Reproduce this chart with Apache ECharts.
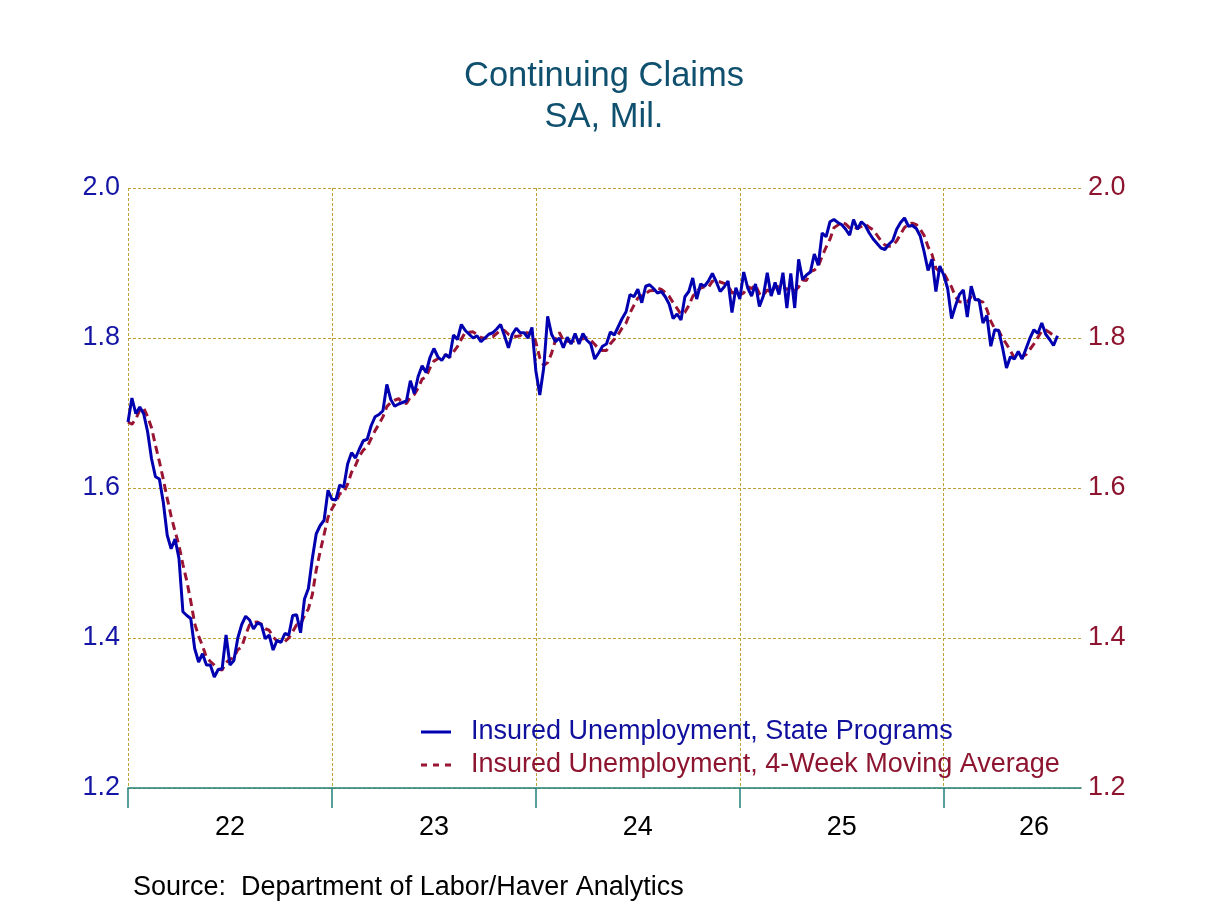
<!DOCTYPE html>
<html>
<head>
<meta charset="utf-8">
<script src="https://cdn.jsdelivr.net/npm/echarts@6/dist/echarts.min.js"></script>
<style>
  html, body { margin: 0; padding: 0; background: #fff; }
  #chart { width: 1208px; height: 906px; }
</style>
</head>
<body>
<div id="chart"></div>
<script>
  'use strict';

  /* weekly continuing claims, millions */
  var claims2022 = [1.688, 1.720, 1.699, 1.708, 1.699, 1.675, 1.639, 1.615, 1.612, 1.581,
    1.537, 1.519, 1.532, 1.506, 1.435, 1.430, 1.426, 1.386, 1.368, 1.379,
    1.364, 1.364, 1.348, 1.358, 1.359, 1.404, 1.364, 1.370, 1.400, 1.418,
    1.429, 1.424, 1.412, 1.420, 1.418, 1.399, 1.404, 1.384, 1.397, 1.394,
    1.406, 1.404, 1.430, 1.431, 1.407, 1.452, 1.466, 1.506, 1.539, 1.550,
    1.557, 1.597];
  var claims2023 = [1.585, 1.584, 1.604, 1.601, 1.632, 1.647, 1.640, 1.652, 1.663, 1.665,
    1.683, 1.695, 1.698, 1.703, 1.738, 1.718, 1.709, 1.712, 1.714, 1.716,
    1.743, 1.726, 1.749, 1.763, 1.754, 1.774, 1.786, 1.775, 1.770, 1.778,
    1.774, 1.804, 1.798, 1.818, 1.810, 1.805, 1.800, 1.803, 1.795, 1.800,
    1.805, 1.807, 1.812, 1.818, 1.803, 1.787, 1.805, 1.813, 1.807, 1.807,
    1.800, 1.814];
  var claims2024 = [1.756, 1.724, 1.760, 1.829, 1.805, 1.795, 1.800, 1.787, 1.801, 1.792,
    1.806, 1.792, 1.806, 1.797, 1.792, 1.772, 1.780, 1.789, 1.792, 1.808,
    1.804, 1.815, 1.826, 1.835, 1.858, 1.855, 1.865, 1.847, 1.869, 1.871,
    1.866, 1.860, 1.862, 1.855, 1.845, 1.826, 1.832, 1.824, 1.855, 1.862,
    1.880, 1.852, 1.872, 1.869, 1.876, 1.886, 1.875, 1.862, 1.868, 1.876,
    1.834, 1.867];
  var claims2025 = [1.852, 1.888, 1.867, 1.856, 1.872, 1.842, 1.856, 1.887, 1.856, 1.874,
    1.858, 1.887, 1.840, 1.886, 1.840, 1.905, 1.878, 1.884, 1.888, 1.912,
    1.897, 1.940, 1.935, 1.955, 1.958, 1.954, 1.951, 1.945, 1.937, 1.958,
    1.945, 1.955, 1.950, 1.940, 1.932, 1.926, 1.920, 1.918, 1.925, 1.930,
    1.945, 1.954, 1.960, 1.949, 1.950, 1.946, 1.936, 1.915, 1.890, 1.905,
    1.862, 1.896];
  var claims2026 = [1.884, 1.866, 1.826, 1.843, 1.858, 1.864, 1.828, 1.869, 1.851, 1.851,
    1.820, 1.830, 1.789, 1.811, 1.810, 1.787, 1.760, 1.775, 1.772, 1.782,
    1.772, 1.786, 1.800, 1.811, 1.806, 1.820, 1.805, 1.798, 1.790, 1.803];
  // three weeks before the first plotted one, so the average starts where the dashed line does
  var claimsBefore = [1.732, 1.671, 1.661];

  var yearTickWeeks = [0, 52, 104, 156, 208];
  var yearLabels = { 26: '22', 78: '23', 130: '24', 182: '25', 231: '26' };
  var yTicks = [1.2, 1.4, 1.6, 1.8, 2.0];
  var totalWeeks = 244;   // axis runs a little past the last observation

  var claims = [].concat(claims2022, claims2023, claims2024, claims2025, claims2026);

  // 4-week moving average is the second series' own definition
  var padded = claimsBefore.concat(claims);
  var movingAvg = claims.map(function (v, i) {
    var s = padded[i] + padded[i + 1] + padded[i + 2] + padded[i + 3];
    return +(s / 4).toFixed(4);
  });

  var weeks = [];
  var d0 = new Date(Date.UTC(2022, 0, 1));
  for (var i = 0; i < totalWeeks; i++) {
    var d = new Date(d0.getTime() + i * 7 * 86400000);
    weeks.push(d.toISOString().slice(0, 10));
  }

  var FONT = '"Liberation Sans", Arial, sans-serif';
  var GRID_GOLD = '#bfa235';
  var TEAL = '#20807a';
  var BLUE = '#0000b0';
  var RED = '#9a1533';
  var nameState = 'Insured Unemployment, State Programs';
  var nameAvg = 'Insured Unemployment, 4-Week Moving Average';

  function isYearTick(index) {
    return yearTickWeeks.indexOf(index) !== -1;
  }

  var chart = echarts.init(document.getElementById('chart'));

  var option = {
    animation: false,
    backgroundColor: '#ffffff',
    title: [{
      text: 'Continuing Claims',
      left: 'center',
      top: 51,
      textStyle: { fontFamily: FONT, fontSize: 34.5, fontWeight: 'normal', color: '#10506f', lineHeight: 40 }
    }, {
      text: 'SA, Mil.',
      left: 'center',
      top: 92,
      textStyle: { fontFamily: FONT, fontSize: 34.5, fontWeight: 'normal', color: '#10506f', lineHeight: 40 }
    }],
    grid: {
      left: 128,
      top: 188,
      width: 953,
      height: 600,
      containLabel: false,
      outerBoundsMode: 'none'
    },
    legend: {
      orient: 'vertical',
      left: 421,
      top: 717,
      padding: 0,
      itemGap: 3,
      itemWidth: 30,
      itemHeight: 3,
      textStyle: { fontFamily: FONT, fontSize: 27, lineHeight: 30, padding: [0, 0, 0, 15] },
      data: [
        { name: nameState, icon: 'rect', textStyle: { color: '#10109e' } },
        {
          name: nameAvg,
          icon: 'path://M0,0h6v3h-6zM12,0h6v3h-6zM24,0h6v3h-6z',
          textStyle: { color: '#8e1530' }
        }
      ]
    },
    xAxis: {
      type: 'category',
      boundaryGap: false,
      data: weeks,
      axisLine: { show: true, lineStyle: { color: TEAL, width: 1.5 } },
      axisTick: { show: true, interval: isYearTick, length: 20, lineStyle: { color: TEAL, width: 1.5 } },
      axisLabel: {
        interval: function (index) { return yearLabels[index] !== undefined; },
        formatter: function (value, index) { return yearLabels[index] || ''; },
        margin: 26,
        fontFamily: FONT,
        fontSize: 27,
        color: '#000000'
      },
      splitLine: { show: true, interval: isYearTick, lineStyle: { color: GRID_GOLD, type: [3, 2], width: 1 } }
    },
    yAxis: [{
      type: 'value',
      position: 'left',
      min: yTicks[0],
      max: yTicks[yTicks.length - 1],
      interval: 0.2,
      axisLine: { show: false },
      axisTick: { show: false },
      axisLabel: {
        formatter: function (v) { return v.toFixed(1); },
        margin: 8,
        fontFamily: FONT,
        fontSize: 27,
        color: '#1515a5',
        padding: [0, 0, 16, 0]
      },
      splitLine: { show: true, lineStyle: { color: GRID_GOLD, type: [3, 2], width: 1 } }
    }, {
      type: 'value',
      position: 'right',
      min: yTicks[0],
      max: yTicks[yTicks.length - 1],
      interval: 0.2,
      axisLine: { show: false },
      axisTick: { show: false },
      axisLabel: {
        formatter: function (v) { return v.toFixed(1); },
        margin: 7,
        fontFamily: FONT,
        fontSize: 27,
        color: '#8e1530',
        padding: [0, 0, 16, 0]
      },
      splitLine: { show: false }
    }],
    series: [{
      name: nameAvg,
      type: 'line',
      data: movingAvg,
      yAxisIndex: 1,
      symbol: 'none',
      z: 3,
      lineStyle: { color: RED, width: 3, type: [8, 5] },
      itemStyle: { color: RED }
    }, {
      name: nameState,
      type: 'line',
      data: claims,
      symbol: 'none',
      z: 4,
      lineStyle: { color: BLUE, width: 3 },
      itemStyle: { color: BLUE }
    }],
    graphic: [{
      type: 'text',
      left: 133,
      top: 874,
      style: {
        text: 'Source:  Department of Labor/Haver Analytics',
        fontFamily: FONT,
        fontSize: 27,
        fill: '#000000'
      }
    }]
  };

  chart.setOption(option);
</script>
</body>
</html>
